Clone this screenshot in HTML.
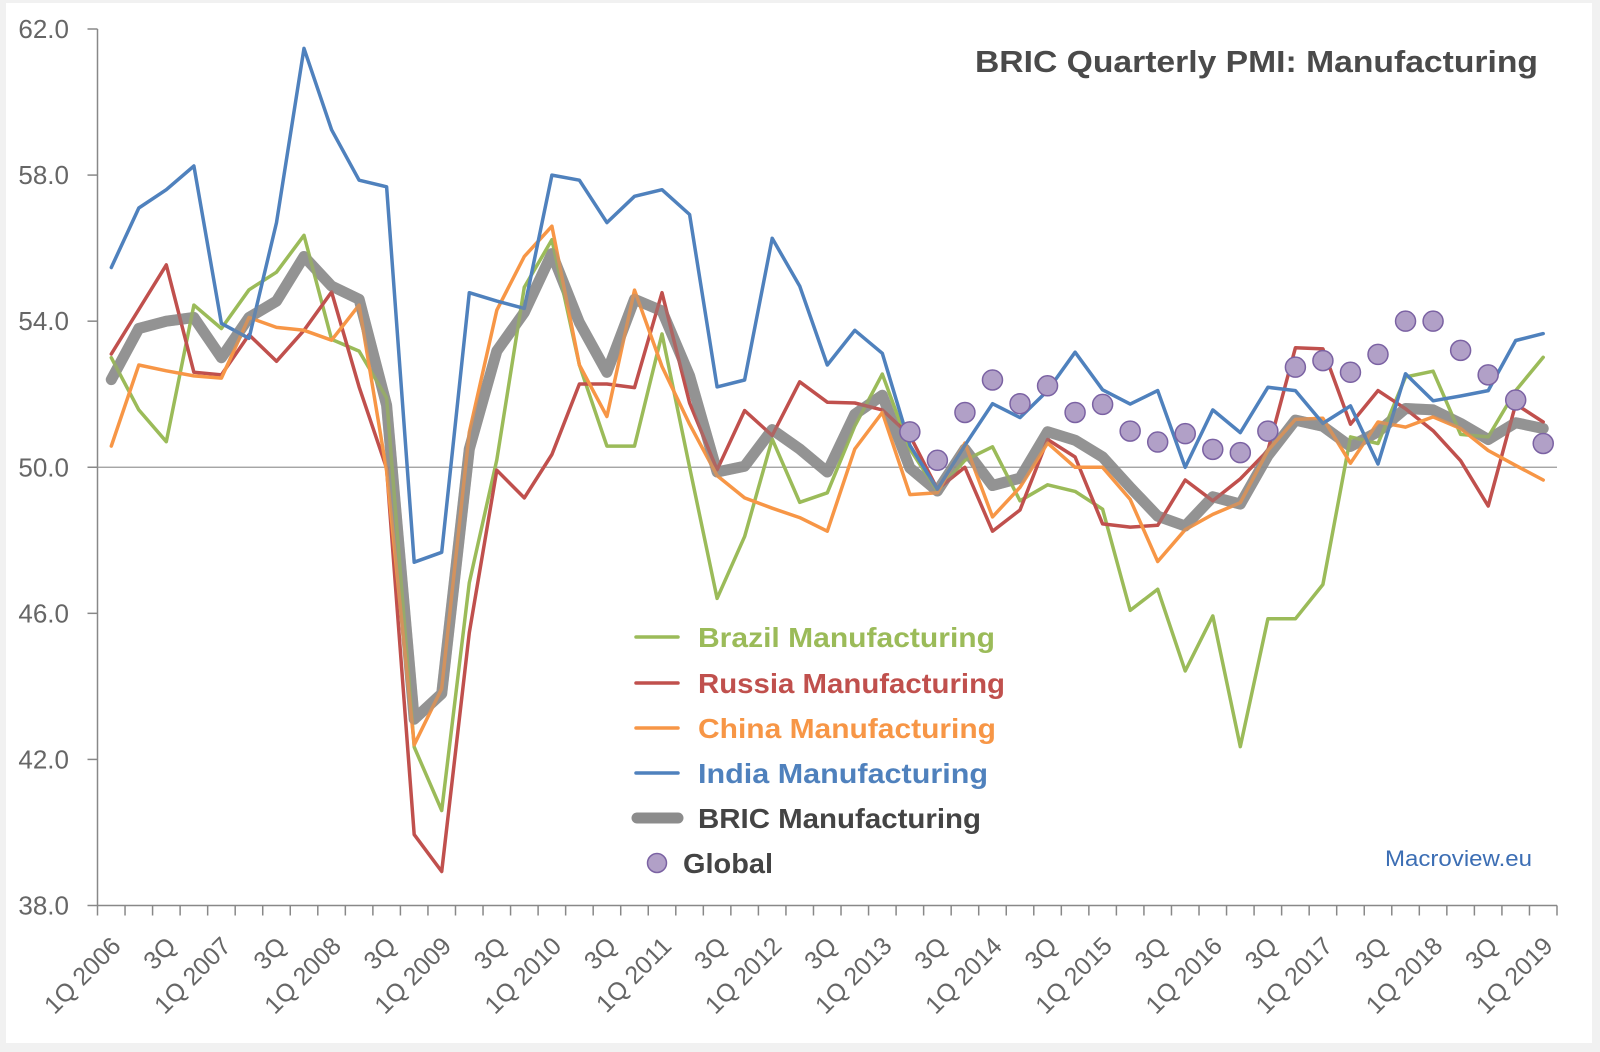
<!DOCTYPE html>
<html><head><meta charset="utf-8">
<style>
html,body{margin:0;padding:0;background:#f1f1f1;}
#wrap{position:absolute;left:6px;top:3px;width:1586px;height:1040px;background:#fff;}
svg{position:absolute;left:0;top:0;}
text{font-family:"Liberation Sans",sans-serif;}
</style></head>
<body>
<div id="wrap"></div>
<svg id="chart" width="1600" height="1052"></svg>
<script>
const brazil=[53.0,51.57,50.7,54.44,53.8,54.86,55.34,56.35,53.5,53.18,51.9,42.34,40.6,46.84,50.2,54.93,56.23,52.8,50.58,50.58,53.65,50.0,46.41,48.1,50.77,49.04,49.3,51.13,52.55,50.5,49.35,50.19,50.56,49.08,49.52,49.34,48.85,46.08,46.66,44.42,45.93,42.35,45.85,45.85,46.79,50.83,50.65,52.47,52.63,50.9,50.83,52.1,53.01];
const russia=[53.1,54.32,55.54,52.6,52.53,53.63,52.9,53.75,54.8,52.2,49.97,39.94,38.93,45.47,49.92,49.16,50.35,52.28,52.28,52.18,54.78,51.76,49.93,51.55,50.87,52.34,51.78,51.76,51.57,50.87,49.4,50.0,48.25,48.83,50.76,50.28,48.45,48.36,48.41,49.65,49.08,49.68,50.46,53.27,53.24,51.18,52.1,51.6,51.0,50.18,48.94,51.73,51.24];
const china=[50.58,52.8,52.64,52.5,52.44,54.1,53.83,53.75,53.48,54.44,49.9,42.4,43.94,50.96,54.3,55.77,56.6,52.8,51.39,54.85,52.76,51.18,49.77,49.16,48.88,48.62,48.25,50.5,51.5,49.25,49.3,50.66,48.64,49.45,50.66,50.0,50.0,49.12,47.42,48.29,48.71,49.03,50.46,51.31,51.34,50.11,51.24,51.1,51.38,51.06,50.46,50.05,49.65];
const india=[55.47,57.1,57.6,58.25,53.94,53.53,56.7,61.47,59.24,57.86,57.68,47.4,47.67,54.78,54.55,54.35,58.0,57.86,56.7,57.42,57.6,56.92,52.2,52.39,56.27,54.96,52.8,53.75,53.12,50.6,49.4,50.6,51.74,51.36,52.1,53.15,52.12,51.73,52.1,50.0,51.57,50.95,52.19,52.1,51.2,51.68,50.09,52.56,51.82,51.95,52.1,53.47,53.66];
const bric=[52.4,53.8,54.0,54.1,53.0,54.1,54.55,55.77,54.96,54.6,51.7,43.1,43.8,50.5,53.18,54.24,55.85,53.96,52.6,54.6,54.28,52.5,49.87,50.03,51.03,50.5,49.87,51.45,51.97,49.98,49.35,50.5,49.5,49.7,50.97,50.74,50.28,49.45,48.66,48.39,49.19,48.99,50.32,51.29,51.12,50.57,50.97,51.61,51.57,51.2,50.76,51.22,51.06];
const globalStart=29;
const globalPmi=[50.97,50.19,51.5,52.39,51.74,52.23,51.5,51.72,50.99,50.69,50.92,50.49,50.4,50.99,52.74,52.92,52.6,53.09,54.0,54.0,53.2,52.53,51.84,50.65];
const yTicks=[38,42,46,50,54,58,62];
const yTickLabels=["38.0","42.0","46.0","50.0","54.0","58.0","62.0"];
const firstYear=2006;

const NS="http://www.w3.org/2000/svg";
const svg=document.getElementById('chart');
const X0=97.5,X1=1557,Y0=29,Y1=905.5,N=brazil.length;
const step=(X1-X0)/N;
function xs(i){return X0+(i+0.5)*step;}
function ys(v){return Y0+(62-v)*(Y1-Y0)/24;}
function mk(tag,attrs,parent){const e=document.createElementNS(NS,tag);for(const k in attrs)e.setAttribute(k,attrs[k]);(parent||svg).appendChild(e);return e;}

const yAxis=mk('line',{x1:X0,y1:Y0,x2:X0,y2:Y1,stroke:'#888','stroke-width':1.5});


yTicks.forEach((t,k)=>{
  const tk=mk('line',{x1:X0-10,y1:ys(t),x2:X0,y2:ys(t),stroke:'#888','stroke-width':1.5});
  
  
  const tl=mk('text',{x:69,y:ys(t)+9,'text-anchor':'end','font-size':26,fill:'#666'});
  tl.textContent=yTickLabels[k];
  
  
});
const ref=mk('line',{x1:X0,y1:ys(50),x2:X1,y2:ys(50),stroke:'#999','stroke-width':1.2});


const xAxis=mk('line',{x1:X0,y1:Y1,x2:X1,y2:Y1,stroke:'#888','stroke-width':1.5});


for(let i=0;i<=N;i++){
  const tk=mk('line',{x1:X0+i*step,y1:Y1,x2:X0+i*step,y2:Y1+10,stroke:'#888','stroke-width':1.5});
  
  
}
for(let i=0;i<N;i+=2){
  const lab=(i%4===0)?('1Q '+(firstYear+i/4)):'3Q';
  const px=xs(i)+11,py=Y1+42;
  const t=mk('text',{x:px,y:py,'text-anchor':'end','font-size':25,fill:'#666',transform:`rotate(-45 ${px} ${py})`});
  t.textContent=lab;
  
  
}
function line(arr,color,w,name,op){
  const d=arr.map((v,i)=>(i?'L':'M')+xs(i).toFixed(1)+' '+ys(v).toFixed(1)).join(' ');
  const p=mk('path',{d:d,fill:'none',stroke:color,'stroke-width':w,'stroke-linejoin':'round','stroke-linecap':'round',opacity:op||1});
  
  
}
line(bric,'#8c8c8c',11,'bric-line',0.9);
line(brazil,'#9BBB59',3.5,'brazil-line');
line(russia,'#C0504D',3.5,'russia-line');
line(china,'#F79646',3.5,'china-line');
line(india,'#4F81BD',3.5,'india-line');
line(bric,'#8c8c8c',11,'bric-line-overlay',0.35);
globalPmi.forEach((v,k)=>{
  const c=mk('circle',{cx:xs(globalStart+k),cy:ys(v),r:10,fill:'#B1A0C7',stroke:'#7B62A3','stroke-width':1.5});
  
  
});
</script>
<svg width="1600" height="1052" style="position:absolute;left:0;top:0">
  <text x="1538" y="72" text-anchor="end" font-size="31" font-weight="bold" fill="#4a4a4a" textLength="563" lengthAdjust="spacingAndGlyphs">BRIC Quarterly PMI: Manufacturing</text>
  <g>
    <line x1="636" y1="637" x2="678" y2="637" stroke="#9BBB59" stroke-width="3.5" stroke-linecap="round"/>
    <text x="698" y="647" font-size="28" font-weight="bold" fill="#9BBB59" textLength="297" lengthAdjust="spacingAndGlyphs">Brazil Manufacturing</text>
    <line x1="636" y1="683" x2="678" y2="683" stroke="#C0504D" stroke-width="3.5" stroke-linecap="round"/>
    <text x="698" y="693" font-size="28" font-weight="bold" fill="#C0504D" textLength="307" lengthAdjust="spacingAndGlyphs">Russia Manufacturing</text>
    <line x1="636" y1="728" x2="678" y2="728" stroke="#F79646" stroke-width="3.5" stroke-linecap="round"/>
    <text x="698" y="738" font-size="28" font-weight="bold" fill="#F79646" textLength="298" lengthAdjust="spacingAndGlyphs">China Manufacturing</text>
    <line x1="636" y1="773" x2="678" y2="773" stroke="#4F81BD" stroke-width="3.5" stroke-linecap="round"/>
    <text x="698" y="783" font-size="28" font-weight="bold" fill="#4F81BD" textLength="290" lengthAdjust="spacingAndGlyphs">India Manufacturing</text>
    <line x1="637" y1="818" x2="678" y2="818" stroke="#8c8c8c" stroke-width="11" stroke-linecap="round"/>
    <text x="698" y="828" font-size="28" font-weight="bold" fill="#444" textLength="283" lengthAdjust="spacingAndGlyphs">BRIC Manufacturing</text>
    <circle cx="657" cy="863" r="9.5" fill="#B1A0C7" stroke="#7B62A3" stroke-width="1.5"/>
    <text x="683" y="873" font-size="28" font-weight="bold" fill="#444" textLength="90" lengthAdjust="spacingAndGlyphs">Global</text>
  </g>
  <text x="1385" y="866" font-size="22" fill="#3C6EB4" textLength="147" lengthAdjust="spacingAndGlyphs">Macroview.eu</text>
</svg>
</body></html>
